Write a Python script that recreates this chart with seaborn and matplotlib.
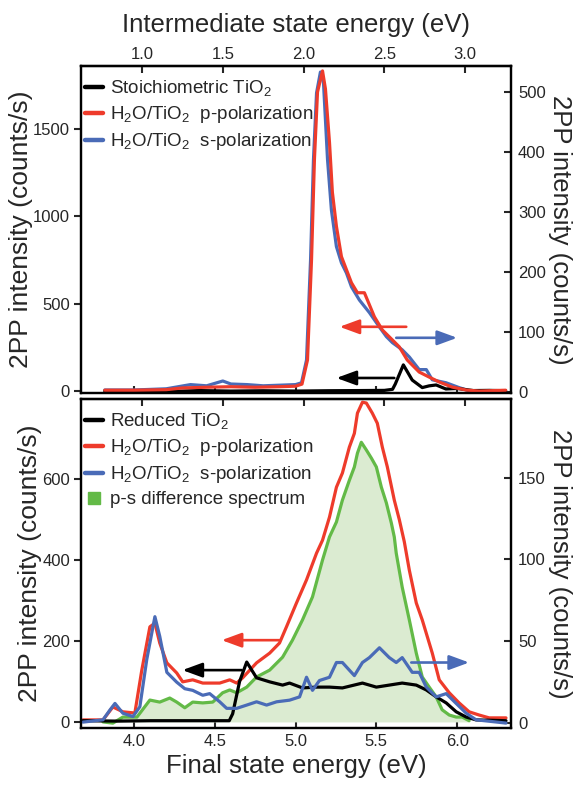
import matplotlib
matplotlib.use("Agg")
import matplotlib.pyplot as plt
import seaborn as sns
from matplotlib.lines import Line2D

sns.set_theme(style="ticks")
plt.rcParams["font.family"] = ["Liberation Sans", "DejaVu Sans"]
plt.rcParams["mathtext.default"] = "regular"

PHOTON_ENERGY = 3.05  # eV: intermediate = final - photon energy

RED = "#EE3B2B"
BLUE = "#4A6BB7"
GREEN = "#63BA47"
GREEN_FILL = "#DBEBD1"

# ---------------- upper panel: stoichiometric surface ----------------
stoich_E = [3.82, 4.0, 4.2, 4.4, 4.6, 4.8, 5.0, 5.2, 5.4, 5.55, 5.60, 5.617, 5.667,
            5.722, 5.784, 5.827, 5.87, 5.93, 6.0, 6.1, 6.2, 6.30]
stoich_I = [0, 2, -3, 3, 0, 2, 0, 2, 3, 4, 10, 40, 150,
            63, 20, 30, 35, 12, 15, 3, 4, 2]

p_top_E = [3.82, 4.0, 4.2, 4.3, 4.45, 4.6, 4.75, 4.9, 5.0, 5.04, 5.074, 5.099, 5.117,
           5.136, 5.167, 5.185, 5.21, 5.228, 5.253, 5.284, 5.315, 5.346, 5.383,
           5.426, 5.444, 5.488, 5.537, 5.599, 5.642, 5.691, 5.765, 5.827, 5.889,
           5.969, 6.056, 6.136, 6.23, 6.30]
p_top_I = [5, 5, 8, 18, 22, 25, 22, 25, 28, 40, 178, 753, 1328,
           1712, 1833, 1730, 1425, 1138, 943, 770, 695, 620, 563,
           563, 523, 425, 350, 293, 253, 178, 109, 80, 52,
           23, 6, 0, 3, 5]

s_top_E = [3.82, 4.0, 4.2, 4.35, 4.45, 4.55, 4.6, 4.7, 4.8, 4.9, 5.0, 5.037, 5.068,
           5.093, 5.111, 5.13, 5.154, 5.173, 5.198, 5.222, 5.253, 5.284, 5.315,
           5.346, 5.395, 5.457, 5.519, 5.562, 5.599, 5.66, 5.704, 5.765, 5.809,
           5.846, 5.932, 6.012, 6.093, 6.30]
s_top_I = [3, 3, 5, 12, 10, 18, 13, 12, 10, 11, 12, 15, 53,
           220, 387, 498, 533, 515, 387, 303, 242, 215, 198,
           175, 153, 132, 108, 92, 82, 70, 58, 37, 37,
           20, 15, 7, 0, 0]

# ---------------- lower panel: reduced surface ----------------
reduced_E = [3.685, 3.9, 4.1, 4.4, 4.59, 4.611, 4.654, 4.698, 4.759, 4.84, 4.92,
             4.963, 5.043, 5.13, 5.21, 5.29, 5.414, 5.5, 5.58, 5.66, 5.747, 5.809,
             5.87, 5.932, 5.994, 6.056, 6.117, 6.302]
reduced_I = [3, 2, 3, 3, 3, 20, 100, 148, 109, 99, 91,
             96, 84, 86, 86, 84, 96, 86, 91, 96, 91, 79,
             62, 47, 25, 12, 5, 3]

p_bot_E = [3.685, 3.809, 3.87, 3.932, 4.006, 4.049, 4.099, 4.13, 4.16, 4.204, 4.265,
           4.302, 4.364, 4.426, 4.531, 4.593, 4.636, 4.673, 4.759, 4.84, 4.901,
           4.944, 5.006, 5.068, 5.13, 5.167, 5.21, 5.253, 5.29, 5.333, 5.364,
           5.383, 5.414, 5.438, 5.475, 5.506, 5.537, 5.568, 5.611, 5.642, 5.673,
           5.704, 5.747, 5.784, 5.846, 5.889, 5.951, 6.012, 6.074, 6.136, 6.198, 6.302]
p_bot_I = [5, 5, 37, 25, 22, 128, 235, 244, 195, 146, 121,
           99, 104, 96, 96, 104, 96, 109, 146, 170, 195,
           235, 294, 351, 417, 449, 506, 580, 615, 679, 713,
           763, 790, 788, 763, 738, 679, 630, 548, 500, 445,
           375, 294, 252, 170, 104, 72, 47, 25, 17, 10, 10]

s_bot_E = [3.685, 3.809, 3.852, 3.883, 3.932, 3.994, 4.037, 4.08, 4.13, 4.16, 4.204,
           4.265, 4.315, 4.364, 4.426, 4.469, 4.531, 4.574, 4.636, 4.698, 4.759,
           4.821, 4.883, 4.963, 5.025, 5.068, 5.105, 5.148, 5.21, 5.253, 5.29,
           5.364, 5.414, 5.457, 5.519, 5.58, 5.623, 5.66, 5.722, 5.765, 5.809,
           5.87, 5.932, 5.994, 6.056, 6.117, 6.302]
s_bot_I = [0.6, 2, 8, 12, 6, 4, 10, 39, 65, 53, 31,
           25, 21, 20, 17, 18, 13, 9, 9, 11, 13,
           11, 13, 14, 16, 28, 20, 26, 28, 37, 37,
           29, 37, 40, 46, 40, 37, 40, 31, 31, 22,
           16, 18, 12, 6, 2, 0]

diff_E = [3.809, 3.87, 3.932, 4.019, 4.099, 4.16, 4.222, 4.265, 4.315, 4.364, 4.426,
          4.488, 4.549, 4.593, 4.636, 4.698, 4.759, 4.84, 4.92, 4.981, 5.043,
          5.105, 5.167, 5.21, 5.253, 5.29, 5.333, 5.364, 5.383, 5.407, 5.438,
          5.469, 5.5, 5.531, 5.562, 5.593, 5.611, 5.623, 5.66, 5.704, 5.747,
          5.784, 5.827, 5.87, 5.907, 5.951, 5.994, 6.031, 6.074]
diff_I = [0, -3, 12, 12, 54, 49, 59, 49, 35, 49, 47,
          49, 72, 79, 72, 86, 111, 128, 160, 202, 252,
          309, 400, 457, 494, 548, 597, 630, 664, 691, 672,
          652, 630, 580, 541, 491, 457, 417, 333, 252, 170,
          111, 86, 62, 30, 17, 12, 12, 3]

final_ticks = [4.0, 4.5, 5.0, 5.5, 6.0]
inter_ticks = [1.0, 1.5, 2.0, 2.5, 3.0]
x_range = (3.673, 6.333)

fig = plt.figure(figsize=(5.73, 7.86), dpi=100)
ax_top_r = fig.add_axes([0.1414, 0.5, 0.7504, 0.416])
ax_top_l = ax_top_r.twinx()
ax_bot_l = fig.add_axes([0.1414, 0.0738, 0.7504, 0.4186])
ax_bot_r = ax_bot_l.twinx()

LW = 2.3
TICK_FS = 12


def frame(ax):
    for sp in ax.spines.values():
        sp.set_linewidth(1.6)
        sp.set_color("black")


# upper panel curves: s-pol on right scale, stoichiometric and p-pol on left scale
sns.lineplot(x=s_top_E, y=s_top_I, ax=ax_top_r, color=BLUE, lw=LW, sort=False)
sns.lineplot(x=stoich_E, y=stoich_I, ax=ax_top_l, color="black", lw=LW, sort=False)
sns.lineplot(x=p_top_E, y=p_top_I, ax=ax_top_l, color=RED, lw=LW, sort=False)

# lower panel curves
ax_bot_l.fill_between(diff_E, diff_I, 0, color=GREEN_FILL, lw=0)
sns.lineplot(x=diff_E, y=diff_I, ax=ax_bot_l, color=GREEN, lw=LW, sort=False)
sns.lineplot(x=p_bot_E, y=p_bot_I, ax=ax_bot_l, color=RED, lw=LW, sort=False)
sns.lineplot(x=reduced_E, y=reduced_I, ax=ax_bot_l, color="black", lw=LW, sort=False)
sns.lineplot(x=s_bot_E, y=s_bot_I, ax=ax_bot_r, color=BLUE, lw=LW, sort=False)

ax_top_l.set_ylim(-11, 1861)
ax_top_r.set_ylim(-2, 543)
ax_bot_l.set_ylim(-15, 798)
ax_bot_r.set_ylim(-3, 198)

for ax in (ax_top_l, ax_top_r, ax_bot_l, ax_bot_r):
    ax.set_xlim(*x_range)
    ax.set_xticks(final_ticks)
    frame(ax)
    ax.set_xlabel("")
    ax.set_ylabel("")

# y axes: left scales on the left, right scales on the right
for ax in (ax_top_l, ax_bot_l):
    ax.yaxis.set_ticks_position("left")
    ax.yaxis.set_label_position("left")
    ax.tick_params(axis="y", direction="out", length=5, width=1.5,
                   labelsize=TICK_FS, pad=3)
for ax in (ax_top_r, ax_bot_r):
    ax.yaxis.set_ticks_position("right")
    ax.yaxis.set_label_position("right")
    ax.tick_params(axis="y", direction="in", length=5, width=1.5,
                   labelsize=TICK_FS, pad=5)

ax_top_l.set_yticks([0, 500, 1000, 1500])
ax_top_r.set_yticks([0, 100, 200, 300, 400, 500])
ax_bot_l.set_yticks([0, 200, 400, 600])
ax_bot_r.set_yticks([0, 50, 100, 150])

for ax in (ax_top_l, ax_top_r, ax_bot_l, ax_bot_r):
    ax.tick_params(axis="x", direction="in", length=5, width=1.5, labelsize=TICK_FS,
                   top=False, bottom=True, labelbottom=False)
ax_bot_l.tick_params(axis="x", labelbottom=True, pad=4)

to_inter = (lambda e: e - PHOTON_ENERGY, lambda i: i + PHOTON_ENERGY)
sec_top = ax_top_l.secondary_xaxis("top", functions=to_inter)
sec_top.set_xticks(inter_ticks)
sec_top.set_xticklabels([f"{t:.1f}" for t in inter_ticks])
sec_top.tick_params(direction="in", length=5, width=1.5, labelsize=TICK_FS, pad=3)
sec_top.spines["top"].set_linewidth(1.6)
sec_top.set_xlabel("Intermediate state energy (eV)", fontsize=18.5, labelpad=11)

sec_bot = ax_bot_r.secondary_xaxis("top", functions=to_inter)
sec_bot.set_xticks(inter_ticks)
sec_bot.tick_params(direction="in", length=5, width=1.5, labelsize=TICK_FS,
                    labeltop=False)
sec_bot.spines["top"].set_linewidth(1.6)

ax_bot_l.set_xlabel("Final state energy (eV)", fontsize=18.5, labelpad=4)

ylab = "2PP intensity (counts/s)"
ax_top_l.set_ylabel(ylab, fontsize=19, labelpad=0)
ax_bot_l.set_ylabel(ylab, fontsize=19, labelpad=0)
ax_top_r.set_ylabel(ylab, fontsize=18.5, rotation=270, labelpad=19)
ax_bot_r.set_ylabel(ylab, fontsize=18.5, rotation=270, labelpad=19)

# arrows showing which scale each curve belongs to
arrow_kw = dict(arrowstyle="-|>,head_length=0.6,head_width=0.22", lw=1.9,
                mutation_scale=20, shrinkA=0, shrinkB=0)
ax_top_l.annotate("", xy=(5.272, 368), xytext=(5.685, 368),
                  arrowprops=dict(color=RED, **arrow_kw))
ax_top_r.annotate("", xy=(6.0, 90), xytext=(5.623, 90),
                  arrowprops=dict(color=BLUE, **arrow_kw))
ax_top_l.annotate("", xy=(5.253, 75), xytext=(5.611, 75),
                  arrowprops=dict(color="black", **arrow_kw))
ax_bot_l.annotate("", xy=(4.543, 202), xytext=(4.90, 202),
                  arrowprops=dict(color=RED, **arrow_kw))
ax_bot_l.annotate("", xy=(4.30, 128), xytext=(4.667, 128),
                  arrowprops=dict(color="black", **arrow_kw))
ax_bot_r.annotate("", xy=(6.074, 37), xytext=(5.716, 37),
                  arrowprops=dict(color=BLUE, **arrow_kw))

# legends
pol_p = "H$_2$O/TiO$_2$  p-polarization"
pol_s = "H$_2$O/TiO$_2$  s-polarization"
h_black = Line2D([], [], color="black", lw=3.2)
h_red = Line2D([], [], color=RED, lw=3.2)
h_blue = Line2D([], [], color=BLUE, lw=3.2)
h_green = Line2D([], [], color=GREEN, marker="s", ls="none", markersize=9)

leg_kw = dict(loc="upper left", bbox_to_anchor=(0.0, 0.974), frameon=False,
              fontsize=13.5, handlelength=0.95, handletextpad=0.4, borderpad=0.0,
              borderaxespad=0.2, labelspacing=0.32)
ax_top_l.legend([h_black, h_red, h_blue],
                ["Stoichiometric TiO$_2$", pol_p, pol_s], **leg_kw)
ax_bot_r.legend([h_black, h_red, h_blue, h_green],
                ["Reduced TiO$_2$", pol_p, pol_s, "p-s difference spectrum"], **leg_kw)

fig.savefig("out.png", dpi=100)
